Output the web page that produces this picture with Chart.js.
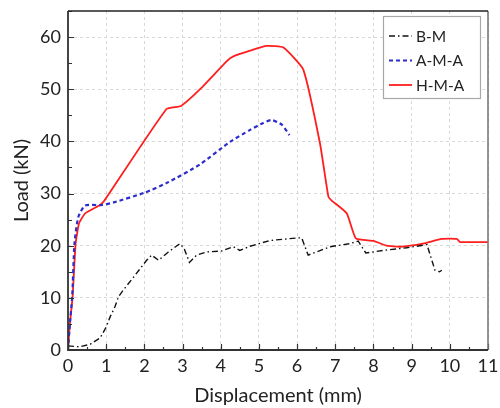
<!DOCTYPE html>
<html>
<head>
<meta charset="utf-8">
<script src="https://cdn.jsdelivr.net/npm/chart.js@4"></script>
<style>
  html, body { margin: 0; padding: 0; background: #fff; }
  #wrap { width: 500px; height: 408px; position: relative; }
</style>
</head>
<body>
<div id="wrap"><canvas id="c" width="500" height="408"></canvas></div>
<script>
const seriesNames = ['B-M', 'A-M-A', 'H-M-A'];
const xTickValues = [0,1,2,3,4,5,6,7,8,9,10,11];
const yTickValues = [0,10,20,30,40,50,60];

const bmX = [0, 0.3, 0.58, 0.84, 1.0, 1.1, 1.23, 1.32, 1.45, 1.72, 2.06, 2.19, 2.37, 2.63, 2.93, 3.04, 3.18, 3.37, 3.63, 4.03, 4.33, 4.5, 4.77, 5.29, 6.03, 6.12, 6.29, 6.51, 6.86, 7.39, 7.6, 7.8, 8.26, 8.87, 9.4, 9.53, 9.61, 9.73, 9.79];
const bmY = [0.8, 0.6, 1.1, 2.3, 4.4, 6.3, 8.3, 10.2, 11.5, 14.0, 17.2, 18.2, 17.2, 18.8, 20.4, 19.5, 16.8, 18.2, 18.8, 19.0, 19.8, 19.1, 19.9, 21.0, 21.5, 21.5, 18.2, 18.8, 19.8, 20.4, 20.9, 18.6, 19.1, 19.6, 20.2, 17.2, 15.3, 15.0, 15.3];

const amaX = [0, 0.05, 0.11, 0.17, 0.27, 0.45, 0.9, 1.2, 2.02, 2.58, 3.46, 4.24, 4.77, 5.1, 5.33, 5.6, 5.8];
const amaY = [0, 5.1, 10.2, 20.4, 25.5, 27.7, 27.8, 28.3, 30.2, 32.0, 35.6, 39.9, 42.2, 43.5, 44.1, 43.2, 41.2];

const hmaX = [0, 0.05, 0.12, 0.2, 0.29, 0.45, 0.84, 0.95, 2.58, 2.96, 3.46, 4.16, 4.33, 4.77, 5.2, 5.64, 6.16, 6.6, 6.82, 6.9, 7.3, 7.54, 8.0, 8.35, 8.7, 9.3, 9.79, 10.18, 10.27, 11];
const hmaY = [0, 5.0, 10.2, 20.4, 24.3, 26.2, 27.8, 28.6, 46.2, 46.8, 50.0, 55.4, 56.3, 57.4, 58.3, 58.0, 53.8, 39.6, 29.4, 28.7, 26.2, 21.4, 20.9, 20.0, 19.8, 20.4, 21.3, 21.3, 20.7, 20.7];

function pts(xs, ys) { return xs.map((x, i) => ({ x: x, y: ys[i] })); }

const FONT = 'Lato, "Open Sans", sans-serif';

function zeroPad(s) { s.paddingTop = 0; s.paddingBottom = 0; s.paddingLeft = 0; s.paddingRight = 0; }

const decorPlugin = {
  id: 'decor',
  afterDraw(chart) {
    const ctx = chart.ctx;
    const a = chart.chartArea;
    const xs = chart.scales.x, ys = chart.scales.y;
    ctx.save();
    // ticks (inward)
    ctx.strokeStyle = '#333';
    ctx.lineWidth = 1.2;
    ctx.beginPath();
    for (let v = 0; v <= 11.001; v += 0.5) {
      const px = Math.round(xs.getPixelForValue(v)) + 0.5;
      const len = (Math.abs(v - Math.round(v)) < 1e-6) ? 6 : 3;
      ctx.moveTo(px, a.bottom); ctx.lineTo(px, a.bottom - len);
    }
    for (let v = 0; v <= 65.001; v += 5) {
      const py = Math.round(ys.getPixelForValue(v)) + 0.5;
      const len = (v % 10 === 0) ? 6 : 4;
      ctx.moveTo(a.left, py); ctx.lineTo(a.left + len, py);
    }
    ctx.stroke();
    // frame
    ctx.lineWidth = 1.6;
    ctx.strokeStyle = '#7a7a7a';
    ctx.beginPath();
    ctx.moveTo(a.right, a.top); ctx.lineTo(a.right, a.bottom);
    ctx.stroke();
    ctx.strokeStyle = '#222';
    ctx.lineWidth = 1.3;
    ctx.beginPath();
    ctx.moveTo(a.left, a.top); ctx.lineTo(a.right, a.top);
    ctx.stroke();
    ctx.lineWidth = 1.8;
    ctx.strokeStyle = '#333';
    ctx.beginPath();
    ctx.moveTo(a.left, a.top); ctx.lineTo(a.left, a.bottom); ctx.lineTo(a.right, a.bottom);
    ctx.stroke();

    // legend
    const bx = 383.5, by = 16.5, bw = 97, bh = 82;
    ctx.fillStyle = '#fff';
    ctx.fillRect(bx, by, bw, bh);
    ctx.strokeStyle = '#a8a8a8';
    ctx.lineWidth = 1.2;
    ctx.strokeRect(bx, by, bw, bh);
    const rows = [36, 60.5, 85];
    chart.data.datasets.forEach((ds, i) => {
      const y = rows[i];
      ctx.beginPath();
      ctx.setLineDash(ds.borderDash || []);
      ctx.strokeStyle = ds.borderColor;
      ctx.lineWidth = ds.borderWidth;
      ctx.moveTo(389, y); ctx.lineTo(412, y);
      ctx.stroke();
      ctx.setLineDash([]);
      ctx.fillStyle = '#222';
      ctx.font = '15.5px ' + FONT;
      ctx.textBaseline = 'middle';
      ctx.textAlign = 'left';
      ctx.fillText(ds.label, 416, y + 0.5);
    });
    ctx.restore();
  }
};

new Chart(document.getElementById('c'), {
  type: 'line',
  data: {
    datasets: [
      { label: seriesNames[0], data: pts(bmX, bmY), borderColor: '#111', borderWidth: 1.4, borderDash: [6, 3, 1.5, 3], pointRadius: 0, fill: false, tension: 0 },
      { label: seriesNames[1], data: pts(amaX, amaY), borderColor: '#2d2dcc', borderWidth: 2.2, borderDash: [4, 3], pointRadius: 0, fill: false, tension: 0.2 },
      { label: seriesNames[2], data: pts(hmaX, hmaY), borderColor: '#ff1e1e', borderWidth: 1.8, pointRadius: 0, fill: false, tension: 0.15 }
    ]
  },
  options: {
    responsive: false,
    animation: false,
    devicePixelRatio: 1,
    layout: { padding: { top: 11, right: 12, left: 0, bottom: 0 } },
    plugins: { legend: { display: false }, tooltip: { enabled: false } },
    scales: {
      x: {
        type: 'linear', min: 0, max: 11,
        afterBuildTicks: s => { s.ticks = xTickValues.map(v => ({ value: v })); },
        afterFit: s => { s.height = 58; zeroPad(s); },
        ticks: { font: { size: 18, family: FONT }, color: '#222', padding: 5, maxRotation: 0 },
        grid: { color: '#d8d8d8', lineWidth: 1, drawTicks: false },
        border: { display: false, dash: [3, 3] },
        title: { display: true, text: 'Displacement (mm)', font: { size: 20, family: FONT }, color: '#222', padding: { top: 0, bottom: 0 } }
      },
      y: {
        type: 'linear', min: 0, max: 65,
        afterBuildTicks: s => { s.ticks = yTickValues.map(v => ({ value: v })); },
        afterFit: s => { s.width = 68; zeroPad(s); },
        ticks: { font: { size: 18, family: FONT }, color: '#222', padding: 7 },
        grid: { color: '#d8d8d8', lineWidth: 1, drawTicks: false },
        border: { display: false, dash: [3, 3] },
        title: { display: true, text: 'Load (kN)', font: { size: 20, family: FONT }, color: '#222', padding: { top: 10, bottom: 0 } }
      }
    }
  },
  plugins: [decorPlugin]
});
</script>
</body>
</html>
